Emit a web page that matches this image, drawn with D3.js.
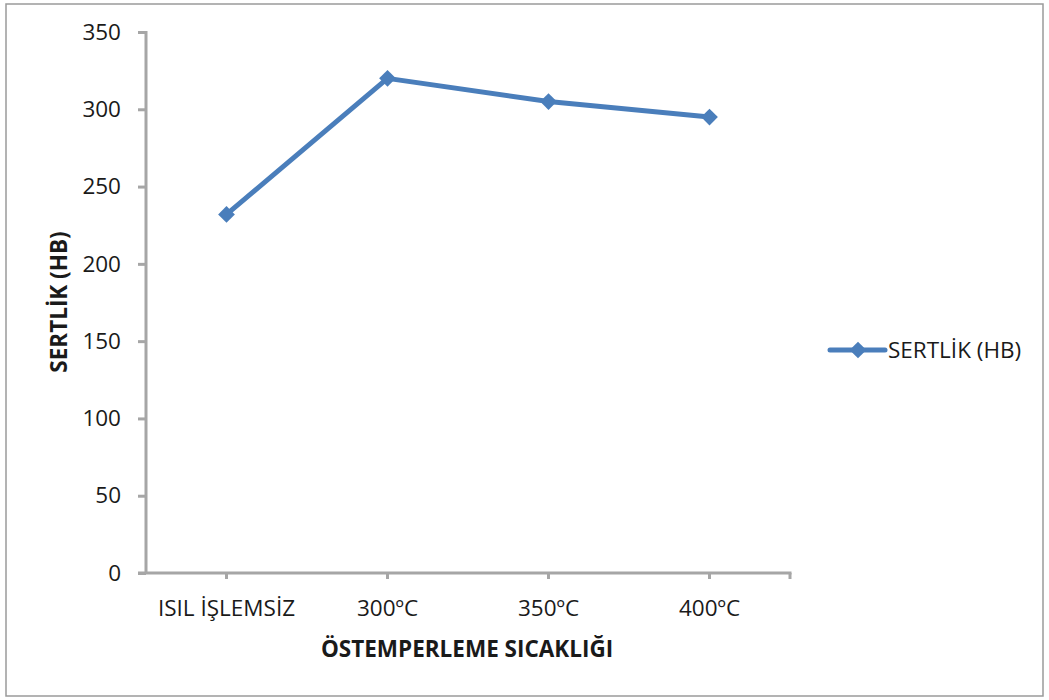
<!DOCTYPE html>
<html>
<head>
<meta charset="utf-8">
<script src="https://cdn.jsdelivr.net/npm/d3@7"></script>
<style>
  html, body { margin: 0; padding: 0; background: #fff; }
  svg text { font-family: "Open Sans", "Liberation Sans", sans-serif; fill: #1a1a1a; }
</style>
</head>
<body>
<svg id="chart" width="1049" height="700"></svg>
<script>
// Hardness per austempering temperature
const categories = ["ISIL İŞLEMSİZ", "300ºC", "350ºC", "400ºC"];
const hardness = [232, 320, 305, 295];
const yTicks = [0, 50, 100, 150, 200, 250, 300, 350];
const seriesName = "SERTLİK (HB)";
const xTitle = "ÖSTEMPERLEME SICAKLIĞI";
const yTitle = "SERTLİK (HB)";

const svg = d3.select("#chart");
const lineColor = "#4a7ebb";
const axisColor = "#a6a6a6";
const fontSize = 22.5;

// outer frame
svg.append("rect")
  .attr("x", 6).attr("y", 4).attr("width", 1037).attr("height", 692)
  .attr("fill", "#fff").attr("stroke", "#9a9a9a").attr("stroke-width", 1.5);

const plot = { left: 146, right: 790, top: 32, bottom: 573 };

const x = d3.scalePoint().domain(categories).range([plot.left, plot.right]).padding(0.5);
const y = d3.scaleLinear().domain([0, 350]).range([plot.bottom, plot.top]);

// y axis
const yAxis = svg.append("g")
  .attr("transform", `translate(${plot.left},0)`)
  .call(d3.axisLeft(y).tickValues(yTicks).tickSize(8).tickPadding(17));
yAxis.selectAll("path, line").attr("stroke", axisColor).attr("stroke-width", 3);
yAxis.select(".domain").attr("d", `M0,${plot.top - 1}V${plot.bottom}`);
yAxis.selectAll("text").attr("font-size", fontSize).attr("fill", "#1a1a1a")
  .style("font-family", "'Open Sans', sans-serif");

// x axis: ticks under each category and at the right end
const xAxis = svg.append("g").attr("transform", `translate(0,${plot.bottom})`);
xAxis.append("line")
  .attr("x1", plot.left - 8).attr("x2", plot.right + 1.5)
  .attr("stroke", axisColor).attr("stroke-width", 3);
const tickXs = categories.map(c => x(c)).concat([plot.right]);
xAxis.selectAll("line.tick").data(tickXs).join("line")
  .attr("class", "tick")
  .attr("x1", d => d).attr("x2", d => d).attr("y1", 0).attr("y2", 6)
  .attr("stroke", axisColor).attr("stroke-width", 3);
xAxis.selectAll("text").data(categories).join("text")
  .attr("x", d => x(d))
  .attr("y", 43)
  .attr("text-anchor", "middle")
  .attr("font-size", fontSize)
  .text(d => d);

// axis titles
svg.append("text")
  .attr("x", 467).attr("y", 657)
  .attr("text-anchor", "middle").attr("font-size", fontSize).attr("font-weight", "bold")
  .text(xTitle);
svg.append("text")
  .attr("transform", `translate(67,302) rotate(-90)`)
  .attr("text-anchor", "middle").attr("font-size", fontSize).attr("font-weight", "bold")
  .text(yTitle);

// series line
const pts = categories.map((c, i) => [x(c), y(hardness[i])]);
svg.append("path")
  .attr("d", d3.line()(pts))
  .attr("fill", "none").attr("stroke", lineColor).attr("stroke-width", 5)
  .attr("stroke-linejoin", "round");

const diamond = d3.symbol().type(d3.symbolSquare).size(140);
svg.selectAll("path.marker").data(pts).join("path")
  .attr("class", "marker")
  .attr("d", diamond)
  .attr("transform", d => `translate(${d[0]},${d[1]}) rotate(45)`)
  .attr("fill", lineColor);

// legend
const lg = svg.append("g").attr("transform", "translate(830,350)");
lg.append("line").attr("x1", 0).attr("x2", 55)
  .attr("stroke", lineColor).attr("stroke-width", 5).attr("stroke-linecap", "round");
lg.append("path").attr("d", diamond)
  .attr("transform", "translate(28,0) rotate(45)").attr("fill", lineColor);
lg.append("text").attr("x", 58).attr("y", 8).attr("font-size", fontSize).text(seriesName);
</script>
</body>
</html>
